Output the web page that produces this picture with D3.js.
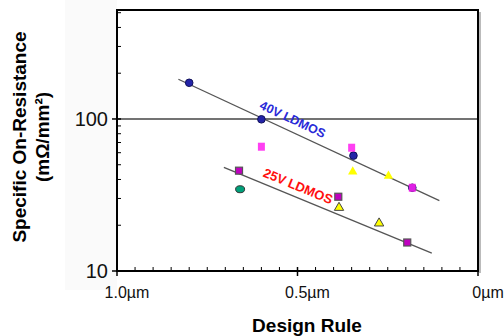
<!DOCTYPE html>
<html>
<head>
<meta charset="utf-8">
<script src="https://cdn.jsdelivr.net/npm/d3@7"></script>
<style>
  body { margin: 0; background: #fff; }
  svg { display: block; }
</style>
</head>
<body>
<div id="chart-area"></div>
<script>
// Chart values
var xTicks = [1.0, 0.5, 0]
var xTickLabels = ["1.0\u00b5m", "0.5\u00b5m", "0\u00b5m"]
var yTicks = [10, 100]
var yTickLabels = ["10", "100"]

// blue circles (40V LDMOS)
var blueX = [0.8, 0.6, 0.345, 0.182]
var blueY = [173, 99.5, 57.4, 35.3]
// light magenta squares
var pinkX = [0.6, 0.35, 0.182]
var pinkY = [65.7, 64.7, 35.3]
// purple squares with grey edge (25V LDMOS)
var purpleX = [0.662, 0.387, 0.196]
var purpleY = [45.7, 30.8, 15.4]
// yellow triangles, no edge
var yellowX = [0.347, 0.248]
var yellowY = [45.0, 42.2]
// yellow triangles with dark edge
var yellowEdgeX = [0.385, 0.274]
var yellowEdgeY = [26.1, 20.6]
// teal ellipse
var tealX = [0.659]
var tealY = [34.5]

// trend lines
var trend40X = [0.83, 0.107]
var trend40Y = [182.5, 29.0]
var trend25X = [0.704, 0.128]
var trend25Y = [48.1, 13.1]

var width = 504, height = 336
var plotL = 117, plotR = 478, plotT = 10, plotB = 271

var svg = d3.select("#chart-area")
    .append("svg")
        .attr("width", width)
        .attr("height", height)

// faint grey band behind the y labels
svg.append("rect")
    .attr("x", 65).attr("y", 0)
    .attr("width", plotL - 65).attr("height", 290)
    .attr("fill", "#fafafa")

var x = d3.scaleLinear().domain([1.0, 0]).range([plotL, plotR])
var y = d3.scaleLog().domain([10, 521]).range([plotB, plotT])

// plot background
svg.append("rect")
    .attr("x", plotL).attr("y", plotT)
    .attr("width", plotR - plotL).attr("height", plotB - plotT)
    .attr("fill", "#fff")

// minor ticks (inside)
var minorX = d3.range(1, 20).map(i => i * 0.05)
svg.append("g").selectAll("line")
    .data(minorX)
    .enter().append("line")
        .attr("x1", d => x(d)).attr("x2", d => x(d))
        .attr("y1", plotB).attr("y2", plotB - 4)
        .attr("stroke", "#000").attr("stroke-width", 1)

var minorY = y.ticks().filter(d => yTicks.indexOf(d) < 0)
svg.append("g").selectAll("line")
    .data(minorY)
    .enter().append("line")
        .attr("x1", plotL).attr("x2", plotL + 4)
        .attr("y1", d => y(d)).attr("y2", d => y(d))
        .attr("stroke", "#000").attr("stroke-width", 1)

// grid line at 100
svg.append("line")
    .attr("x1", plotL).attr("x2", plotR)
    .attr("y1", y(100)).attr("y2", y(100))
    .attr("stroke", "#444").attr("stroke-width", 1.5)

// frame with shadow on the right
svg.append("line")
    .attr("x1", plotR + 2).attr("x2", plotR + 2)
    .attr("y1", plotT + 2).attr("y2", plotB + 2)
    .attr("stroke", "#bbb").attr("stroke-width", 2)
svg.append("rect")
    .attr("x", plotL).attr("y", plotT)
    .attr("width", plotR - plotL).attr("height", plotB - plotT)
    .attr("fill", "none")
    .attr("stroke", "#000").attr("stroke-width", 2)

// major ticks (outside)
svg.append("g").selectAll("line")
    .data(xTicks)
    .enter().append("line")
        .attr("x1", d => x(d)).attr("x2", d => x(d))
        .attr("y1", plotB - 4).attr("y2", plotB + 5)
        .attr("stroke", "#000").attr("stroke-width", 1.5)
svg.append("g").selectAll("line")
    .data(yTicks)
    .enter().append("line")
        .attr("x1", plotL - 5).attr("x2", plotL + 4)
        .attr("y1", d => y(d)).attr("y2", d => y(d))
        .attr("stroke", "#000").attr("stroke-width", 1.5)

// tick labels
svg.append("g").selectAll("text")
    .data(xTicks)
    .enter().append("text")
        .attr("x", d => x(d) + 10)
        .attr("y", 298)
        .attr("text-anchor", "middle")
        .attr("font-family", "Liberation Sans, Arial, sans-serif")
        .attr("font-size", 16)
        .attr("fill", "#111")
        .text((d, i) => xTickLabels[i])

svg.append("g").selectAll("text")
    .data(yTicks)
    .enter().append("text")
        .attr("x", plotL - 9)
        .attr("y", d => y(d))
        .attr("dy", "0.36em")
        .attr("text-anchor", "end")
        .attr("font-family", "Liberation Sans Narrow, Arial Narrow, sans-serif")
        .attr("font-size", 20)
        .attr("fill", "#111")
        .text((d, i) => yTickLabels[i])

// axis titles
svg.append("text")
    .attr("x", 307)
    .attr("y", 332)
    .attr("text-anchor", "middle")
    .attr("font-family", "Liberation Sans, Arial, sans-serif")
    .attr("font-weight", "bold")
    .attr("font-size", 19)
    .text("Design Rule")

var yTitle = svg.append("text")
    .attr("transform", "translate(0, 137) rotate(-90)")
    .attr("text-anchor", "middle")
    .attr("font-family", "Liberation Sans, Arial, sans-serif")
    .attr("font-weight", "bold")
    .attr("font-size", 19)
yTitle.append("tspan").attr("x", 0).attr("y", 26).text("Specific On-Resistance")
yTitle.append("tspan").attr("x", 0).attr("y", 49).text("(m\u03a9/mm\u00b2)")

// trend lines
function drawTrend(xs, ys) {
    svg.append("line")
        .attr("x1", x(xs[0])).attr("y1", y(ys[0]))
        .attr("x2", x(xs[1])).attr("y2", y(ys[1]))
        .attr("stroke", "#555").attr("stroke-width", 1.3)
}
drawTrend(trend40X, trend40Y)
drawTrend(trend25X, trend25Y)

// line labels, placed along each trend line
function drawLabel(xs, ys, at, offset, txt, color, size) {
    var x0 = x(xs[0]), y0 = y(ys[0]), x1 = x(xs[1]), y1 = y(ys[1])
    var a = Math.atan2(y1 - y0, x1 - x0)
    var px = x(at)
    var py = y0 + (px - x0) * (y1 - y0) / (x1 - x0)
    px += Math.sin(a) * offset
    py -= Math.cos(a) * offset
    svg.append("text")
        .attr("transform", "translate(" + px + ", " + py + ") rotate(" + (a * 180 / Math.PI) + ")")
        .attr("text-anchor", "middle")
        .attr("dy", "0.35em")
        .attr("font-family", "Liberation Sans, Arial, sans-serif")
        .attr("font-weight", "bold")
        .attr("font-size", size)
        .attr("fill", color)
        .text(txt)
}
drawLabel(trend40X, trend40Y, 0.527, 12, "40V LDMOS", "#2a2ad8", 12.5)
drawLabel(trend25X, trend25Y, 0.51, 11, "25V LDMOS", "#ff1010", 13)

// markers
function zip(xs, ys) { return xs.map((d, i) => ({x: d, y: ys[i]})) }

svg.append("g").selectAll("rect")
    .data(zip(purpleX, purpleY))
    .enter().append("rect")
        .attr("x", d => x(d.x) - 3.5).attr("y", d => y(d.y) - 3.5)
        .attr("width", 7).attr("height", 7)
        .attr("fill", "#c000c0")
        .attr("stroke", "#555").attr("stroke-width", 1.2)

var tri = d3.symbol().type(d3.symbolTriangle).size(38)
svg.append("g").selectAll("path")
    .data(zip(yellowX, yellowY))
    .enter().append("path")
        .attr("d", tri)
        .attr("transform", d => "translate(" + x(d.x) + ", " + y(d.y) + ")")
        .attr("fill", "#ffff00")
svg.append("g").selectAll("path")
    .data(zip(yellowEdgeX, yellowEdgeY))
    .enter().append("path")
        .attr("d", tri)
        .attr("transform", d => "translate(" + x(d.x) + ", " + y(d.y) + ")")
        .attr("fill", "#ffff00")
        .attr("stroke", "#444").attr("stroke-width", 1)

svg.append("g").selectAll("ellipse")
    .data(zip(tealX, tealY))
    .enter().append("ellipse")
        .attr("cx", d => x(d.x)).attr("cy", d => y(d.y))
        .attr("rx", 4.5).attr("ry", 3.5)
        .attr("fill", "#00a07a")
        .attr("stroke", "#333").attr("stroke-width", 1)

svg.append("g").selectAll("circle")
    .data(zip(blueX, blueY))
    .enter().append("circle")
        .attr("cx", d => x(d.x)).attr("cy", d => y(d.y))
        .attr("r", 3.8)
        .attr("fill", "#2424a8")
        .attr("stroke", "#10105a").attr("stroke-width", 1)

// pink squares sit on top of the blue circles
svg.append("g").selectAll("rect")
    .data(zip(pinkX, pinkY))
    .enter().append("rect")
        .attr("x", d => x(d.x) - 3.5).attr("y", d => y(d.y) - 4)
        .attr("width", 7).attr("height", 8)
        .attr("fill", "#ff1ef0")
        .attr("fill-opacity", 0.85)
</script>
</body>
</html>
